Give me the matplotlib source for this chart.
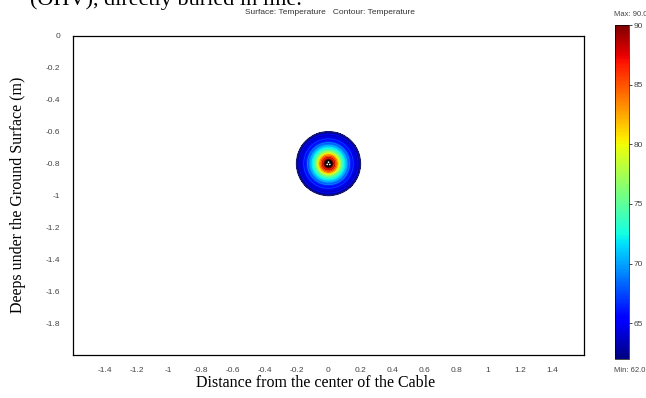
import numpy as np
import matplotlib
matplotlib.use("Agg")
import matplotlib.pyplot as plt
from matplotlib.patches import Circle

# Daten
t_min, t_max = 62.0, 90.0
cable_x, cable_y = 0.0, -0.8
soil_radius = 0.2
cable_radius = 0.025
# radiales Temperaturprofil (Abstand vom Kabelzentrum in m, Temperatur)
profile_r = [0.0, 0.03, 0.045, 0.06, 0.07, 0.09, 0.115, 0.14, 0.17, 0.2]
profile_t = [90.0, 90.0, 87.0, 83.0, 78.0, 73.0, 69.0, 66.0, 64.0, 62.0]
xticks = [-1.4, -1.2, -1, -0.8, -0.6, -0.4, -0.2, 0, 0.2, 0.4, 0.6, 0.8, 1, 1.2, 1.4]
yticks = [0, -0.2, -0.4, -0.6, -0.8, -1, -1.2, -1.4, -1.6, -1.8]
cbar_ticks = [65, 70, 75, 80, 85, 90]
core_offsets = [(0.0, 0.009), (-0.008, -0.005), (0.008, -0.005)]

serif = "Liberation Serif"
sans = "Liberation Sans"
tick_color = "#444444"

fig = plt.figure(figsize=(6.46, 3.98), dpi=100)
ax = fig.add_axes([73 / 646, 1 - 355 / 398, 511 / 646, 319 / 398])

# Temperaturfeld im Kreis
g = np.linspace(-soil_radius, soil_radius, 401)
gx, gy = np.meshgrid(g, g)
rr = np.hypot(gx, gy)
temp = np.interp(rr, profile_r, profile_t)
temp = np.ma.masked_where(rr > soil_radius, temp)
X = gx + cable_x
Y = gy + cable_y

levels = np.linspace(t_min, t_max, 120)
ax.contourf(X, Y, temp, levels=levels, cmap="jet", vmin=t_min, vmax=t_max)
ax.contour(X, Y, temp, levels=np.linspace(t_min + 1, t_max - 1, 14), cmap="jet",
           vmin=t_min - 4, vmax=t_max + 4, linewidths=0.6)
ax.add_patch(Circle((cable_x, cable_y), soil_radius, fill=False, ec="#1a1a6e", lw=1.0))

# Kabel mit drei Leitern
ax.add_patch(Circle((cable_x, cable_y), cable_radius, fc="black", ec="none", zorder=5))
for dx, dy in core_offsets:
    ax.add_patch(Circle((cable_x + dx, cable_y + dy), 0.0055, fc="white", ec="none", zorder=6))

ax.set_xlim(-1.6, 1.6)
ax.set_ylim(-2.0, 0.0)
ax.set_xticks(xticks)
ax.set_xticklabels([f"{v:g}" for v in xticks], family=sans)
ax.set_yticks(yticks)
ax.set_yticklabels([f"{v:g}" for v in yticks], family=sans)
ax.tick_params(length=0, labelsize=6, labelcolor=tick_color, pad=9)
for s in ax.spines.values():
    s.set_linewidth(0.9)

ax.set_xlabel("Distance from the center of the Cable", family=serif, fontsize=11.5)
ax.xaxis.set_label_coords((316 - 73) / 511, -28 / 319)
ax.set_ylabel("Deeps under the Ground Surface (m)", family=serif, fontsize=11.5)
ax.yaxis.set_label_coords((18 - 73) / 511, (355 - 195) / 319)
ax.xaxis.label.set_va("center")
ax.yaxis.label.set_va("center")

fig.text(330 / 646, 1 - 13 / 398, "Surface: Temperature   Contour: Temperature",
         ha="center", va="center", fontsize=6, family=sans, color="#333333")

# abgeschnittener Text vom Dokument oben
fig.text(30 / 646, 1 - 5 / 398, "(OHV), directly buried in line.", family=serif,
         fontsize=16, va="baseline", ha="left")

# Farbskala
cax = fig.add_axes([615 / 646, 1 - 359 / 398, 14 / 646, 334 / 398])
sm = plt.cm.ScalarMappable(cmap="jet", norm=plt.Normalize(t_min, t_max))
cb = fig.colorbar(sm, cax=cax, ticks=cbar_ticks)
cb.outline.set_linewidth(0.5)
cax.tick_params(length=2, width=0.5, labelsize=6, labelcolor=tick_color, pad=1)
for lbl in cax.get_yticklabels():
    lbl.set_family(sans)
fig.text(614 / 646, 1 - 14 / 398, "Max: 90.0", ha="left", va="center", fontsize=5.5,
         family=sans, color=tick_color)
fig.text(614 / 646, 1 - 370 / 398, "Min: 62.0", ha="left", va="center", fontsize=5.5,
         family=sans, color=tick_color)

fig.savefig("out.png", dpi=100)
